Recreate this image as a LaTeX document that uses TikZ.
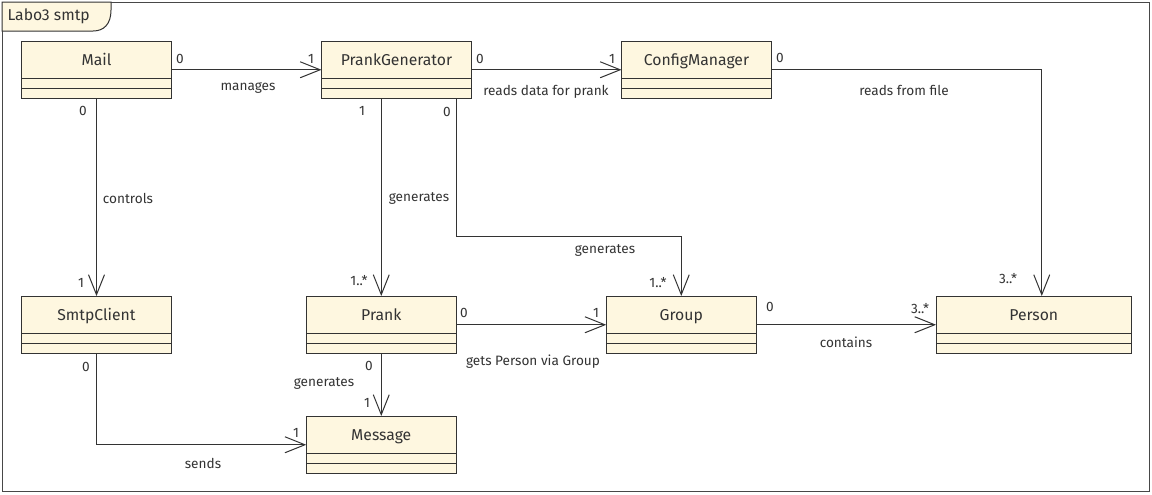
\documentclass[tikz,border=0pt]{standalone}
\usepackage{fontspec}
\setmainfont{Fira Sans}
\usetikzlibrary{arrows.meta}

\definecolor{umlfill}{RGB}{254,247,224}
\definecolor{umlline}{RGB}{51,51,51}
\definecolor{umltext}{RGB}{51,51,51}

\tikzset{every picture/.style={line width=0.75pt}}
\tikzset{
  classbox/.style={draw=umlline, fill=umlfill, minimum width=112.5pt, minimum height=43.125pt, inner sep=0pt, outer sep=0pt},
  classname/.style={font=\fontsize{11.8}{13}\selectfont, text=umltext, inner sep=0pt, text height=8pt, text depth=2.5pt},
  compart/.style={draw=umlline},
  assoc/.style={draw=umlline, -{Straight Barb[length=15pt,width=12pt]}},
  mult/.style={font=\fontsize{10.2}{12}\selectfont, text=umltext, inner sep=0pt},
  assoclabel/.style={font=\fontsize{10.2}{12}\selectfont, text=umltext, inner sep=0pt},
}

\begin{document}
\begin{tikzpicture}[x=0.75pt,y=0.75pt,yscale=-1,xscale=1]
\useasboundingbox[fill=white] (0,0) rectangle (1152,494);

%Frame
\draw [draw=umlline!90] (2,2) rectangle (1149,491) ;
%Frame tab
\draw [draw=umlline, fill=umlfill] (2,2) -- (111,2) -- (111,10) .. controls (111,24) and (104,31) .. (93,31) -- (2,31) -- cycle ;
\node [classname, anchor=west] (frametitle) at (7,17) {Labo3 smtp};

%Class Mail
\node [classbox] (mail) at (96.5,69.75) {};
\draw [compart] ([yshift=-15pt]mail.south west) -- ([yshift=-15pt]mail.south east) ;
\draw [compart] ([yshift=-7.5pt]mail.south west) -- ([yshift=-7.5pt]mail.south east) ;
\node [classname] (mail-name) at ([yshift=15.5pt]mail.north) {Mail};
%Class PrankGenerator
\node [classbox] (pg) at (396.5,69.75) {};
\draw [compart] ([yshift=-15pt]pg.south west) -- ([yshift=-15pt]pg.south east) ;
\draw [compart] ([yshift=-7.5pt]pg.south west) -- ([yshift=-7.5pt]pg.south east) ;
\node [classname] (pg-name) at ([yshift=15.5pt]pg.north) {PrankGenerator};
%Class ConfigManager
\node [classbox] (cm) at (696.5,69.75) {};
\draw [compart] ([yshift=-15pt]cm.south west) -- ([yshift=-15pt]cm.south east) ;
\draw [compart] ([yshift=-7.5pt]cm.south west) -- ([yshift=-7.5pt]cm.south east) ;
\node [classname] (cm-name) at ([yshift=15.5pt]cm.north) {ConfigManager};
%Class SmtpClient
\node [classbox] (smtp) at (96.5,324.75) {};
\draw [compart] ([yshift=-15pt]smtp.south west) -- ([yshift=-15pt]smtp.south east) ;
\draw [compart] ([yshift=-7.5pt]smtp.south west) -- ([yshift=-7.5pt]smtp.south east) ;
\node [classname] (smtp-name) at ([yshift=15.5pt]smtp.north) {SmtpClient};
%Class Prank
\node [classbox] (prank) at (381.25,324.75) {};
\draw [compart] ([yshift=-15pt]prank.south west) -- ([yshift=-15pt]prank.south east) ;
\draw [compart] ([yshift=-7.5pt]prank.south west) -- ([yshift=-7.5pt]prank.south east) ;
\node [classname] (prank-name) at ([yshift=15.5pt]prank.north) {Prank};
%Class Group
\node [classbox] (group) at (681.25,324.75) {};
\draw [compart] ([yshift=-15pt]group.south west) -- ([yshift=-15pt]group.south east) ;
\draw [compart] ([yshift=-7.5pt]group.south west) -- ([yshift=-7.5pt]group.south east) ;
\node [classname] (group-name) at ([yshift=15.5pt]group.north) {Group};
%Class Person
\node [classbox, minimum width=146.6pt] (person) at (1033.75,324.75) {};
\draw [compart] ([yshift=-15pt]person.south west) -- ([yshift=-15pt]person.south east) ;
\draw [compart] ([yshift=-7.5pt]person.south west) -- ([yshift=-7.5pt]person.south east) ;
\node [classname] (person-name) at ([yshift=15.5pt]person.north) {Person};
%Class Message
\node [classbox] (message) at (381.25,444.75) {};
\draw [compart] ([yshift=-15pt]message.south west) -- ([yshift=-15pt]message.south east) ;
\draw [compart] ([yshift=-7.5pt]message.south west) -- ([yshift=-7.5pt]message.south east) ;
\node [classname] (message-name) at ([yshift=15.5pt]message.north) {Message};

%Associations
\coordinate (bend) at (456,236);
\draw [assoc] (mail.east) -- (pg.west) ;
\draw [assoc] (pg.east) -- (cm.west) ;
\draw [assoc] (cm.east) -| ([xshift=6pt]person.north) ;
\draw [assoc] (mail.south) -- (smtp.north) ;
\draw [assoc] (pg.south -| prank.north) -- (prank.north) ;
\draw [assoc] (bend |- pg.south) -- (bend) -| (group.north) ;
\draw [assoc] (prank.east) -- (group.west) ;
\draw [assoc] (prank.south) -- (message.north) ;
\draw [assoc] (group.east) -- (person.west) ;
\draw [assoc] (smtp.south) |- (message.west) ;

% Text Node
\node [mult] (m-mail-a) at (180,59) {0};
\node [mult] (m-mail-b) at (311,59) {1};
\node [assoclabel] (l-manages) at (248,88) {manages};
\node [mult] (m-pg-a) at (480,59) {0};
\node [mult] (m-pg-b) at (612,59) {1};
\node [assoclabel] (l-reads) at (546,92) {reads data for prank};
\node [mult] (m-cm-a) at (780,58) {0};
\node [assoclabel] (l-file) at (904,90) {reads from file};
\node [mult] (m-cm-b) at (1008,279) {3..*};
\node [mult] (m-ctl-a) at (83,111) {0};
\node [assoclabel] (l-controls) at (128,198) {controls};
\node [mult] (m-ctl-b) at (81,283) {1};
\node [mult] (m-gen-a) at (362,111) {1};
\node [assoclabel] (l-gen-prank) at (419,198) {generates};
\node [mult] (m-gen-b) at (359,281) {1..*};
\node [mult] (m-grp-a) at (447,112) {0};
\node [assoclabel] (l-gen-group) at (605,250) {generates};
\node [mult] (m-grp-b) at (658,283) {1..*};
\node [mult] (m-via-a) at (464,313) {0};
\node [mult] (m-via-b) at (596,313) {1};
\node [assoclabel] (l-via) at (533,362) {gets Person via Group};
\node [mult] (m-msg-a) at (369,366) {0};
\node [assoclabel] (l-gen-msg) at (324,383) {generates};
\node [mult] (m-msg-b) at (367,403) {1};
\node [mult] (m-cont-a) at (770,307) {0};
\node [mult] (m-cont-b) at (920,309) {3..*};
\node [assoclabel] (l-contains) at (846,342) {contains};
\node [mult] (m-send-a) at (86,367) {0};
\node [mult] (m-send-b) at (296,433) {1};
\node [assoclabel] (l-sends) at (203,463) {sends};

\end{tikzpicture}
\end{document}
